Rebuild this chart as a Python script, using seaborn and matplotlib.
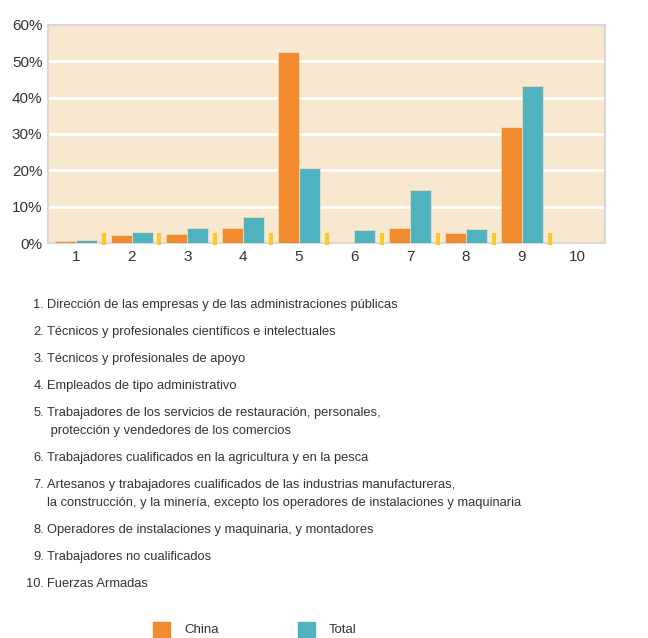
import pandas as pd
import matplotlib.pyplot as plt
import seaborn as sns

# valores (%)
grupos = ["1", "2", "3", "4", "5", "6", "7", "8", "9", "10"]
china = [0.6, 2.3, 2.5, 4.2, 52.6, 0.4, 4.1, 2.8, 31.8, 0.0]
total = [0.8, 3.0, 4.2, 7.1, 20.6, 3.5, 14.7, 4.0, 43.3, 0.2]
yticks = [0, 10, 20, 30, 40, 50, 60]

ocupaciones = [
    ("1.", "Dirección de las empresas y de las administraciones públicas"),
    ("2.", "Técnicos y profesionales científicos e intelectuales"),
    ("3.", "Técnicos y profesionales de apoyo"),
    ("4.", "Empleados de tipo administrativo"),
    ("5.", "Trabajadores de los servicios de restauración, personales,\n protección y vendedores de los comercios"),
    ("6.", "Trabajadores cualificados en la agricultura y en la pesca"),
    ("7.", "Artesanos y trabajadores cualificados de las industrias manufactureras,\nla construcción, y la minería, excepto los operadores de instalaciones y maquinaria"),
    ("8.", "Operadores de instalaciones y maquinaria, y montadores"),
    ("9.", "Trabajadores no cualificados"),
    ("10.", "Fuerzas Armadas"),
]

df = pd.DataFrame({
    "grupo": grupos * 2,
    "valor": china + total,
    "serie": ["China"] * 10 + ["Total"] * 10,
})

sns.set_theme(style="white")
plt.rcParams["font.family"] = ["Liberation Sans", "DejaVu Sans"]

naranja = "#F28A2E"
turquesa = "#4FB3BF"
txt = "#333333"

fig = plt.figure(figsize=(6.48, 6.38), dpi=100)
ax = fig.add_axes([0.074, 0.619, 0.86, 0.342])
ax.set_facecolor("#F8E8D0")

sns.barplot(data=df, x="grupo", y="valor", hue="serie", palette=[naranja, turquesa],
            saturation=1, width=0.755, ax=ax, legend=False, edgecolor="#F6D9B8",
            linewidth=0.6, zorder=3)

ax.set_ylim(0, 60)
ax.set_xlim(-0.5, 9.5)
ax.set_yticks(yticks)
ax.set_yticklabels([f"{v}%" for v in yticks], fontsize=11, color=txt)
ax.tick_params(axis="x", labelsize=11, colors=txt, length=0, pad=5)
ax.tick_params(axis="y", length=0, pad=4)
ax.set_xlabel("")
ax.set_ylabel("")
for v in yticks[1:-1]:
    ax.axhline(v, color="white", lw=2, zorder=1)
for s in ax.spines.values():
    s.set_color("#D8D8D8")
    s.set_linewidth(1.5)

# marcas amarillas entre grupos
ax.vlines([i + 0.5 for i in range(9)], -0.6, 2.7, color="#F9C92C", lw=3,
          clip_on=False, zorder=4)

# lista de ocupaciones
y = 305
for num, texto in ocupaciones:
    fig.text(44 / 648, 1 - y / 638, num, ha="right", va="center", fontsize=9.3, color=txt)
    for k, linea in enumerate(texto.split("\n")):
        fig.text(47 / 648, 1 - (y + 18 * k) / 638, linea, ha="left", va="center",
                 fontsize=9.3, color=txt)
    y += 27 + 18 * texto.count("\n")

# leyenda
for x0, nombre, col in [(153, "China", naranja), (298, "Total", turquesa)]:
    fig.patches.append(plt.Rectangle((x0 / 648, 0), 17 / 648, 16 / 638,
                                     transform=fig.transFigure, color=col, figure=fig))
    fig.text((x0 + 31) / 648, 8 / 638, nombre, ha="left", va="center",
             fontsize=9.5, color=txt)

fig.savefig("out.png", dpi=100)
